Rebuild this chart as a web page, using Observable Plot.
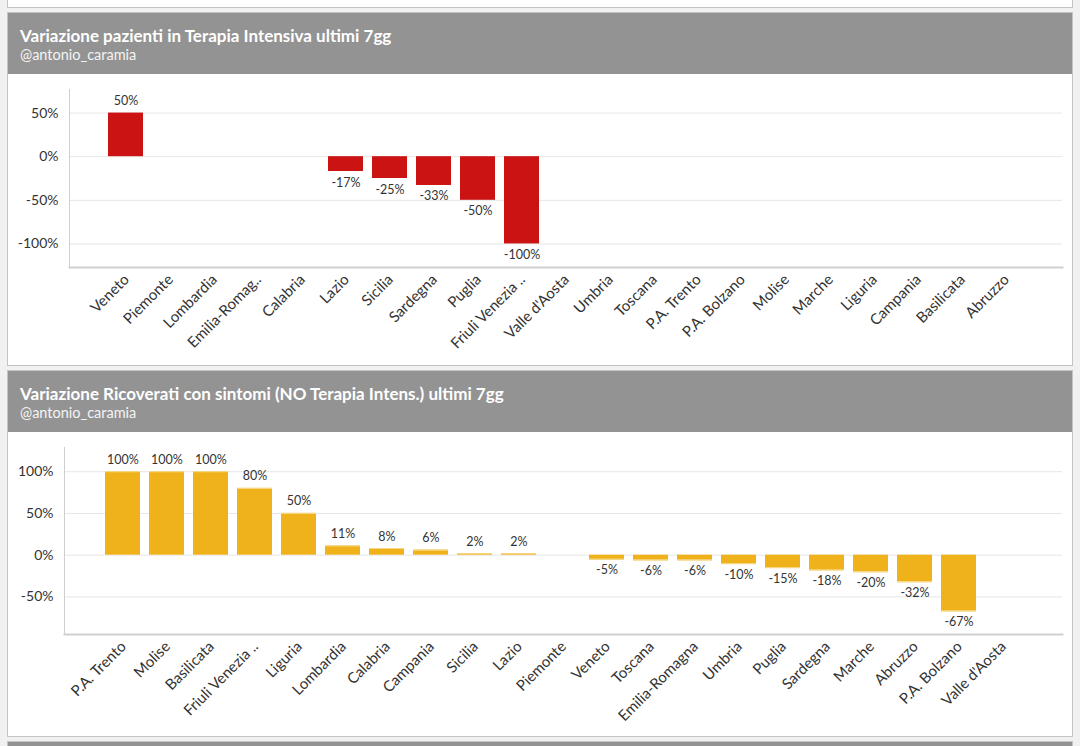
<!DOCTYPE html>
<html>
<head>
<meta charset="utf-8">
<script src="https://cdn.jsdelivr.net/npm/d3@7"></script>
<script src="https://cdn.jsdelivr.net/npm/@observablehq/plot@0.6"></script>
<style>
  html, body { margin: 0; padding: 0; }
  body { width: 1080px; height: 746px; background: #f1f1f1; position: relative; overflow: hidden; font-family: Lato, "Open Sans", sans-serif; }
  .panel { position: absolute; left: 7px; width: 1066px; box-sizing: border-box; border: 1px solid #c4c4c4; background: #fff; overflow: hidden; }
  .head { background: #939393; height: 61px; box-sizing: border-box; padding: 13px 0 0 12px; color: #fff; }
  .title { font-weight: bold; font-size: 17px; line-height: 20px; white-space: nowrap; }
  .sub { font-size: 14.5px; line-height: 17px; color: #f4f4f4; }
  svg { display: block; }
</style>
</head>
<body>
<div class="panel" style="top:-10px;height:18px;"></div>
<div class="panel" style="top:12px;height:354px;">
  <div class="head"><div class="title">Variazione pazienti in Terapia Intensiva ultimi 7gg</div><div class="sub">@antonio_caramia</div></div>
  <div id="c1"></div>
</div>
<div class="panel" style="top:370px;height:367px;">
  <div class="head"><div class="title">Variazione Ricoverati con sintomi (NO Terapia Intens.) ultimi 7gg</div><div class="sub">@antonio_caramia</div></div>
  <div id="c2"></div>
</div>
<div class="panel" style="top:741px;height:40px;"><div class="head"></div></div>
<script>
// Chart 1: Terapia Intensiva
const regioniTI = ["Veneto","Piemonte","Lombardia","Emilia-Romag..","Calabria","Lazio","Sicilia","Sardegna","Puglia","Friuli Venezia ..","Valle d'Aosta","Umbria","Toscana","P.A. Trento","P.A. Bolzano","Molise","Marche","Liguria","Campania","Basilicata","Abruzzo"];
const valoriTI = [50,0,0,0,0,-17,-25,-33,-50,-100,0,0,0,0,0,0,0,0,0,0,0];
const ticksTI = [50,0,-50,-100];

// Chart 2: Ricoverati con sintomi
const regioniRS = ["P.A. Trento","Molise","Basilicata","Friuli Venezia ..","Liguria","Lombardia","Calabria","Campania","Sicilia","Lazio","Piemonte","Veneto","Toscana","Emilia-Romagna","Umbria","Puglia","Sardegna","Marche","Abruzzo","P.A. Bolzano","Valle d'Aosta"];
const valoriRS = [100,100,100,80,50,11,8,6,2,2,0,-5,-6,-6,-10,-15,-18,-20,-32,-67,0];
const ticksRS = [100,50,0,-50];

function chart(regioni, valori, ticks, opts) {
  const data = regioni.map((r, i) => ({regione: r, valore: valori[i]}));
  const nz = data.filter(d => d.valore !== 0);
  const marks = [
    Plot.gridY(ticks, {stroke: "#e6e6e6", strokeOpacity: 1}),
    Plot.frame({anchor: "left", stroke: "#cfcfcf"}),
    Plot.frame({anchor: "bottom", stroke: "#cfcfcf", strokeWidth: 2}),
    Plot.axisY({ticks, tickSize: 0, tickPadding: 11, tickFormat: d => d + "%", fontSize: 14, label: null}),
    Plot.text(regioni, {x: d => d, frameAnchor: "bottom", text: d => d, rotate: -45, textAnchor: "end", dx: 4, dy: 13, fontSize: 15, fill: "#333"}),
    Plot.barY(nz, {x: "regione", y: "valore", fill: opts.color})
  ];
  if (opts.edge) marks.push(Plot.tickY(nz, {x: "regione", y: "valore", stroke: opts.edge, strokeWidth: 1.2}));
  marks.push(
    Plot.text(nz.filter(d => d.valore > 0), {x: "regione", y: "valore", text: d => d.valore + "%", dy: -12, fontSize: 12.5, fill: "#333"}),
    Plot.text(nz.filter(d => d.valore < 0), {x: "regione", y: "valore", text: d => d.valore + "%", dy: 11, fontSize: 12.5, fill: "#333"})
  );
  return Plot.plot({
    width: 1064,
    height: opts.height,
    marginTop: opts.marginTop,
    marginBottom: opts.marginBottom,
    marginLeft: opts.marginLeft,
    marginRight: 10,
    style: {fontFamily: "Lato, sans-serif", color: "#333", background: "#fff", overflow: "visible"},
    x: {domain: regioni, padding: 0.2, insetLeft: opts.insetLeft, insetRight: opts.insetRight, label: null, axis: null},
    y: {domain: opts.domain, label: null, axis: null},
    marks
  });
}

document.getElementById("c1").append(chart(regioniTI, valoriTI, ticksTI, {
  height: 289, marginTop: 15, marginBottom: 96, marginLeft: 61,
  insetLeft: 30, insetRight: 30, domain: [-127, 77], color: "#cc1313", edge: null
}));
document.getElementById("c2").append(chart(regioniRS, valoriRS, ticksRS, {
  height: 303, marginTop: 15, marginBottom: 101, marginLeft: 56,
  insetLeft: 31, insetRight: 31, domain: [-95, 129], color: "#efb21b", edge: "#f6d680"
}));
</script>
</body>
</html>
